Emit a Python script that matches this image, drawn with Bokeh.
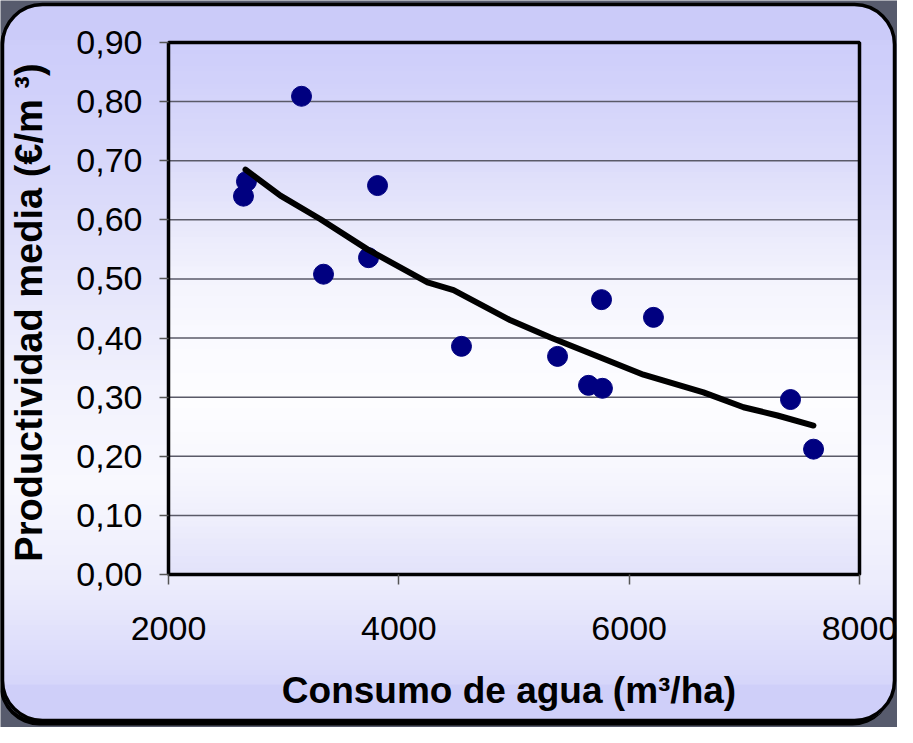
import math
from bokeh.plotting import figure
from bokeh.models import BoxAnnotation, FixedTicker, Range1d, Label
from bokeh.embed import file_html
from bokeh.resources import INLINE

# ---- data ----
consumo = [2651, 2677, 3155, 3346, 3737, 3815, 4544, 5378, 5647, 5768, 5760, 6211, 7401, 7601]
productividad = [0.640, 0.665, 0.809, 0.508, 0.536, 0.658, 0.386, 0.369, 0.320, 0.315, 0.465, 0.435, 0.296, 0.212]

trend_x = [2669, 2972, 3320, 3728, 4249, 4475, 4970, 5317, 5751, 6124, 6645, 6993, 7288, 7600]
trend_y = [0.685, 0.641, 0.601, 0.550, 0.494, 0.481, 0.430, 0.401, 0.367, 0.338, 0.308, 0.283, 0.269, 0.252]

x_min, x_max = 2000, 8000
y_min, y_max = 0.0, 0.9
x_ticks = [2000, 4000, 6000, 8000]
x_tick_labels = ["2000", "4000", "6000", "8000"]
y_ticks = [0.0, 0.1, 0.2, 0.3, 0.4, 0.5, 0.6, 0.7, 0.8, 0.9]
y_tick_labels = ["0,00", "0,10", "0,20", "0,30", "0,40", "0,50", "0,60", "0,70", "0,80", "0,90"]
grid_ticks = y_ticks[1:-1]

x_title = "Consumo de agua (m³/ha)"
y_title = "Productividad media (€/m ³)"

# ---- layout (pixels in the canvas) ----
W, H = 897, 727
FL, FR, FT, FB = 168, 859, 42, 574   # plot-area edges


def X(px):
    return x_min + (px - FL) * (x_max - x_min) / (FR - FL)


def Y(py):
    return y_min + (FB - py) * (y_max - y_min) / (FB - FT)


panel_stops = [(0.0, (203, 203, 249)), (0.12, (208, 208, 250)), (0.26, (218, 218, 250)),
               (0.40, (230, 230, 251)), (0.54, (242, 242, 253)), (0.67, (248, 248, 254)),
               (0.81, (236, 236, 252)), (0.95, (214, 214, 250)), (1.0, (207, 207, 249))]
area_stops = [(0.0, (205, 205, 250)), (0.113, (212, 212, 250)), (0.226, (220, 220, 250)),
              (0.338, (232, 232, 251)), (0.451, (244, 244, 253)), (0.564, (250, 250, 255)),
              (0.677, (253, 253, 255)), (0.789, (248, 248, 254)), (0.902, (238, 238, 252)),
              (1.0, (226, 226, 250))]


def grad(stops, t):
    for (t0, c0), (t1, c1) in zip(stops[:-1], stops[1:]):
        if t <= t1:
            f = 0 if t1 == t0 else (t - t0) / (t1 - t0)
            r, g, b = (round(a + (bb - a) * f) for a, bb in zip(c0, c1))
            return "#%02x%02x%02x" % (r, g, b)
    r, g, b = stops[-1][1]
    return "#%02x%02x%02x" % (r, g, b)


p = figure(width=W, height=H, output_backend="svg", toolbar_location=None,
           x_range=Range1d(X(0), X(W)), y_range=Range1d(Y(H), Y(0)),
           min_border_left=0, min_border_right=0, min_border_top=0, min_border_bottom=0)
p.border_fill_color = "#575b6d"
p.background_fill_color = "#575b6d"
p.outline_line_color = None
p.grid.visible = False


def box(l, r, t, b, **kw):
    kw.setdefault("fill_alpha", 1)
    kw.setdefault("line_alpha", 1)
    p.add_layout(BoxAnnotation(left=X(l), right=X(r), top=Y(t), bottom=Y(b), level="image", **kw))


# ---- panel: shadow, base, gradient strips, border ----
PL, PR, PT, PB = 2, 894, 4, 720
R = 40
box(PL - 3, PR - 2, PT + 4, PB + 5, fill_color="black", line_color=None, border_radius=R)
box(PL, PR, PT, PB, fill_color=grad(panel_stops, 0.0), line_color=None, border_radius=R)
step = 5
y0 = PT + R - 4
while y0 < PB - R + 4:
    y1 = min(y0 + step, PB - R + 4)
    t = ((y0 + y1) / 2 - PT) / (PB - PT)
    box(PL + 1, PR - 1, y0 - 0.6, y1 + 0.6, fill_color=grad(panel_stops, t), line_color=None)
    y0 = y1
box(PL, PR, PB - R + 4, PB, fill_color=grad(panel_stops, 1.0), line_color=None,
    border_radius=(0, 0, R, R))
box(PL, PR, PT, PB, fill_alpha=0, line_color="black", line_width=3.5, border_radius=R)

# ---- plot-area gradient ----
n = 90
for i in range(n):
    fy0 = FT + (FB - FT) * i / n
    fy1 = FT + (FB - FT) * (i + 1) / n
    t = ((fy0 + fy1) / 2 - FT) / (FB - FT)
    box(FL, FR, fy0 - 0.5, fy1 + 0.5, fill_color=grad(area_stops, t), line_color=None)

# ---- grid lines and plot-area border ----
p.segment(x0=[x_min] * len(grid_ticks), y0=grid_ticks, x1=[x_max] * len(grid_ticks), y1=grid_ticks,
          line_color="#5a5a68", line_width=1.5, level="underlay")
p.quad(left=[x_min], right=[x_max], bottom=[y_min], top=[y_max], fill_color=None,
       line_color="black", line_width=3.5, level="underlay")

# ---- axes (fixed at the plot-area edges) ----
p.xaxis.fixed_location = y_min
p.yaxis.fixed_location = x_min
p.xaxis.bounds = (x_min, x_max)
p.yaxis.bounds = (y_min, y_max)
p.xaxis.ticker = FixedTicker(ticks=x_ticks)
p.xaxis.major_label_overrides = {t: l for t, l in zip(x_ticks, x_tick_labels)}
p.yaxis.ticker = FixedTicker(ticks=y_ticks)
p.yaxis.major_label_overrides = {t: l for t, l in zip(y_ticks, y_tick_labels)}

for ax in (p.xaxis[0], p.yaxis[0]):
    ax.axis_line_color = None
    ax.major_tick_line_color = "#555555"
    ax.major_tick_line_width = 1.5
    ax.major_tick_in = 0
    ax.minor_tick_line_color = None
    ax.major_label_text_font = "Liberation Sans"
    ax.major_label_text_font_size = "34px"
    ax.major_label_text_color = "black"

p.xaxis.major_tick_out = 10
p.yaxis.major_tick_out = 9
p.xaxis.major_label_standoff = 32
p.yaxis.major_label_standoff = 17

# ---- axis titles ----
p.add_layout(Label(x=X(508.5), y=Y(690), text=x_title, text_font="Liberation Sans",
                   text_font_size="37px", text_font_style="bold", text_color="black",
                   text_align="center", text_baseline="alphabetic"))
p.add_layout(Label(x=X(28), y=Y(312), text=y_title, text_font="Liberation Sans",
                   text_font_size="38px", text_font_style="bold", text_color="black",
                   text_align="center", text_baseline="alphabetic", angle=math.pi / 2))

# ---- data ----
p.scatter(consumo, productividad, size=20, fill_color="#000080", line_color="#000080")
p.line(trend_x, trend_y, line_width=6, line_color="black", line_join="round", line_cap="round")

open("out.html", "w").write(file_html(p, INLINE))
